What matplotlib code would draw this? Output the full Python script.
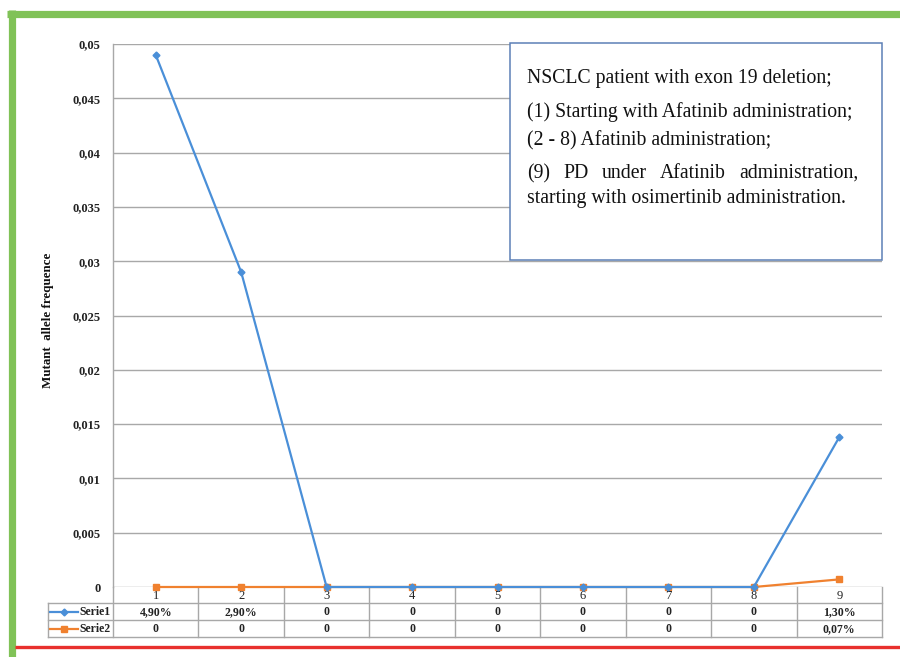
import matplotlib
matplotlib.use('Agg')
import matplotlib.pyplot as plt
import numpy as np
from matplotlib import transforms
from matplotlib.lines import Line2D
from matplotlib.patches import Rectangle

# ---------------- data ----------------
categories = ['1', '2', '3', '4', '5', '6', '7', '8', '9']
serie1 = [0.049, 0.029, 0, 0, 0, 0, 0, 0, 0.0138]
serie2 = [0, 0, 0, 0, 0, 0, 0, 0, 0.0007]
serie1_labels = ['4,90%', '2,90%', '0', '0', '0', '0', '0', '0', '1,30%']
serie2_labels = ['0', '0', '0', '0', '0', '0', '0', '0', '0,07%']
series_names = ['Serie1', 'Serie2']
yticks = [0, 0.005, 0.01, 0.015, 0.02, 0.025, 0.03, 0.035, 0.04, 0.045, 0.05]
ytick_labels = ['0', '0,005', '0,01', '0,015', '0,02', '0,025', '0,03',
                '0,035', '0,04', '0,045', '0,05']
y_label = 'Mutant  allele frequence'
note_lines = [
    'NSCLC patient with exon 19 deletion;',
    '(1) Starting with Afatinib administration;',
    '(2 - 8) Afatinib administration;',
    '(9) PD under Afatinib administration,',
    'starting with osimertinib administration.',
]

# ---------------- style ----------------
W, H = 900, 657
SERIF = ['Liberation Serif', 'DejaVu Serif']
BLUE = '#4a8fd8'
ORANGE = '#f0812f'
GRID = '#a8a8a8'
plt.rcParams['font.family'] = SERIF


def fx(px):
    return px / W


def fy(py):
    return 1 - py / H


fig = plt.figure(figsize=(9, 6.57), dpi=100)
fig.patch.set_facecolor('white')

ax = fig.add_axes([fx(113), fy(587), (882 - 113) / W, (587 - 44) / H])
x = np.arange(1, len(categories) + 1)
ax.plot(x, serie2, color=ORANGE, lw=1.6, marker='s', ms=5, zorder=3, clip_on=False)
ax.plot(x, serie1, color=BLUE, lw=1.6, marker='D', ms=3.5, zorder=4, clip_on=False)
ax.set_xlim(0.5, len(categories) + 0.5)
ax.set_ylim(0, 0.05)
ax.set_yticks(yticks)
ax.set_yticklabels(ytick_labels, fontsize=9, fontweight='bold', color='#222222')
ax.tick_params(axis='y', length=0, pad=9)
ax.set_xticks([])
ax.grid(axis='y', color=GRID, lw=1)
ax.set_axisbelow(True)
for s in ['top', 'right', 'bottom']:
    ax.spines[s].set_visible(False)
ax.spines['left'].set_color(GRID)
ax.spines['left'].set_linewidth(1)

fig.text(fx(48), fy(320), y_label, rotation=90, ha='center', va='center',
         fontsize=9.4, fontweight='bold', color='#111111')

# ---------------- data table ----------------
blend = transforms.blended_transform_factory(ax.transData, fig.transFigure)
rows = [587, 603, 620, 637]
tkw = dict(color=GRID, lw=1, clip_on=False)
for k in range(len(categories) + 1):
    ax.plot([0.5 + k, 0.5 + k], [fy(587), fy(637)], transform=blend, **tkw)
for r in rows[1:]:
    fig.add_artist(Line2D([fx(48), fx(882)], [fy(r), fy(r)], color=GRID, lw=1))
fig.add_artist(Line2D([fx(48), fx(48)], [fy(603), fy(637)], color=GRID, lw=1))

for i, c in enumerate(categories):
    ax.text(x[i], fy(596), c, transform=blend, ha='center', va='center',
            fontsize=9, color='#222222')
    ax.text(x[i], fy(612), serie1_labels[i], transform=blend, ha='center',
            va='center', fontsize=8.5, fontweight='bold', color='#222222')
    ax.text(x[i], fy(629), serie2_labels[i], transform=blend, ha='center',
            va='center', fontsize=8.5, fontweight='bold', color='#222222')

for name, col, mk, ms, yc in [(series_names[0], BLUE, 'D', 3.5, 612),
                              (series_names[1], ORANGE, 's', 5, 629)]:
    fig.add_artist(Line2D([fx(50), fx(78)], [fy(yc), fy(yc)], color=col, lw=1.6))
    fig.add_artist(Line2D([fx(64)], [fy(yc)], color=col, marker=mk, ms=ms, lw=0))
    fig.text(fx(79), fy(yc), name, ha='left', va='center', fontsize=8.5,
             fontweight='bold', color='#222222')

# ---------------- note box ----------------
fig.add_artist(Rectangle((fx(510), fy(260)), (882 - 510) / W, (260 - 43) / H,
                         transform=fig.transFigure, facecolor='white',
                         edgecolor='#5d80b6', lw=1.1, zorder=5))
NOTE_FS = 14.2
baselines = [82.5, 117, 145.5, 178, 203]
for i, (line, b) in enumerate(zip(note_lines, baselines)):
    if i == 3:
        continue
    fig.text(fx(527), fy(b), line, ha='left', va='baseline', fontsize=NOTE_FS,
             color='#111111', zorder=6)

# justified line
fig.canvas.draw()
renderer = fig.canvas.get_renderer()
words = note_lines[3].split()
arts = []
widths = []
for w in words:
    t = fig.text(0, fy(baselines[3]), w, ha='left', va='baseline', fontsize=NOTE_FS,
                 color='#111111', zorder=6)
    arts.append(t)
    widths.append(t.get_window_extent(renderer).width)
left, right = 527, 858
gap = (right - left - sum(widths)) / (len(words) - 1)
pos = left
for t, wd in zip(arts, widths):
    t.set_x(fx(pos))
    pos += wd + gap

# ---------------- page frame ----------------
fig.add_artist(Line2D([fx(7), 1], [fy(13.5), fy(13.5)], color='#80c257', lw=5.2,
                      solid_capstyle='butt'))
fig.add_artist(Line2D([fx(12), fx(12)], [fy(10), 0], color='#80c257', lw=5.2,
                      solid_capstyle='butt'))
fig.add_artist(Line2D([fx(15), 1], [fy(646.5), fy(646.5)], color='#e8302e', lw=2.4,
                      solid_capstyle='butt'))

fig.savefig('out.png', dpi=100)
